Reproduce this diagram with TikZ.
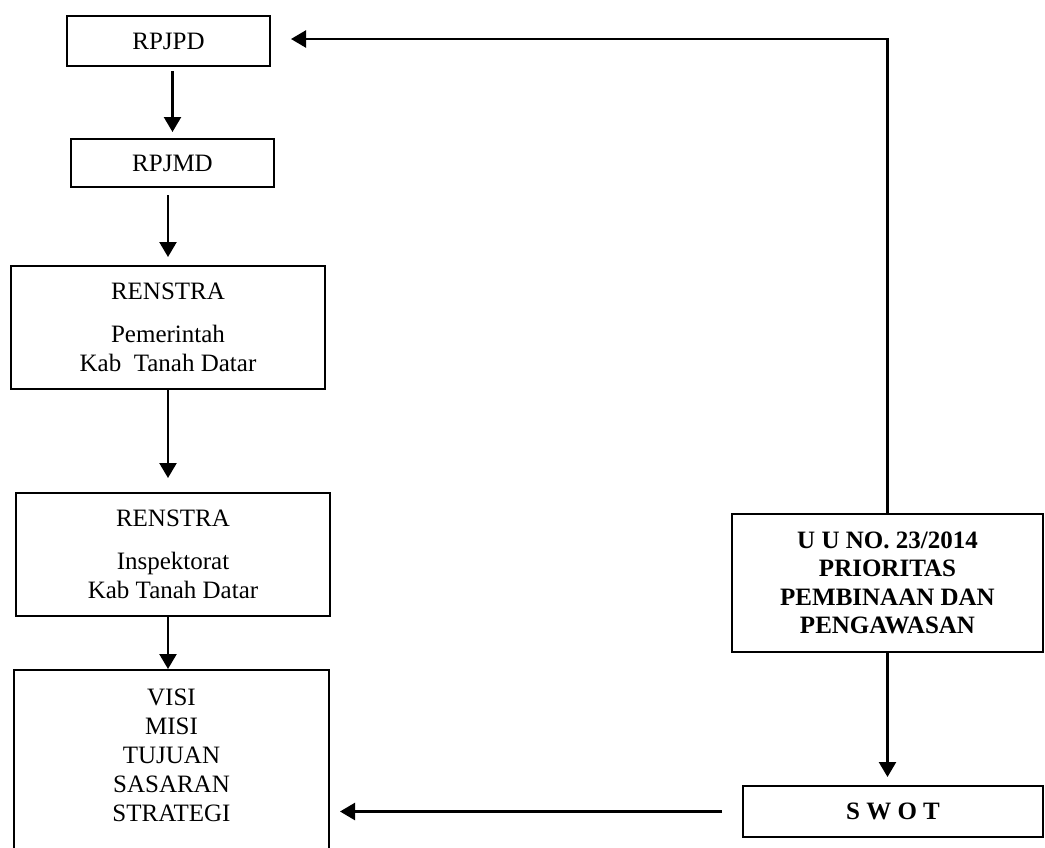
\documentclass[tikz,border=0pt]{standalone}
\usepackage{fontspec}
\setmainfont{Liberation Serif}
\usepackage{tikz}
\usetikzlibrary{arrows.meta}
\tikzset {
	box/.style={rectangle, draw, line width=2pt, align=center, inner sep=0pt, font=\fontsize{25}{29}\selectfont},
	boldBox/.style={box, font=\fontsize{25}{28.5}\selectfont\bfseries},
	link/.style={line width=2.4pt, -{Triangle[length=15pt, width=17pt]}}
}
\begin{document}
\begin{tikzpicture}[x=1pt, y=-1pt]
					\useasboundingbox (0,0) rectangle (1045,847);
					\node [box, minimum width=203pt, minimum height=50pt] (rpjpd) at (168.5,41) {RPJPD};
					\node [box, minimum width=203pt, minimum height=48pt] (rpjmd) at (172.5,163) {RPJMD};
					\node [box, minimum width=314pt, minimum height=123pt] (renstraPemda) at (168,327.5) {RENSTRA\\[14pt]Pemerintah\\Kab\ \ Tanah Datar};
					\node [box, minimum width=314pt, minimum height=123pt] (renstraInsp) at (173,554.5) {RENSTRA\\[14pt]Inspektorat\\Kab Tanah Datar};
					\node [box, minimum width=315pt, anchor=north, inner ysep=18.5pt, text depth=170pt] (visi) at (171.5,669) {VISI\\MISI\\TUJUAN\\SASARAN\\STRATEGI};
					\node [boldBox, minimum width=311pt, minimum height=138pt] (uu) at (887.5,583) {U U NO. 23/2014\\PRIORITAS\\PEMBINAAN DAN\\PENGAWASAN};
					\node [boldBox, minimum width=300pt, minimum height=51pt] (swot) at (893,811.5) {S W O T};
					\draw [link, shorten <=4pt, shorten >=6pt] (rpjmd.north |- rpjpd.south) -- (rpjmd.north);
					\draw [link, shorten <=7pt, shorten >=8pt] (renstraPemda.north |- rpjmd.south) -- (renstraPemda.north);
					\draw [link, shorten >=14pt] (renstraPemda.south) -- (renstraPemda.south |- renstraInsp.north);
					\draw [link] (renstraPemda.south |- renstraInsp.south) -- (renstraPemda.south |- visi.north);
					\draw [link, shorten >=20pt] (uu.north) |- ([yshift=2pt]rpjpd.east);
					\draw [link, shorten >=8pt] (uu.south) -- (uu.south |- swot.north);
					\draw [link, shorten <=20pt, shorten >=10pt] (swot.west) -- (swot.west -| visi.east);
\end{tikzpicture}
\end{document}
